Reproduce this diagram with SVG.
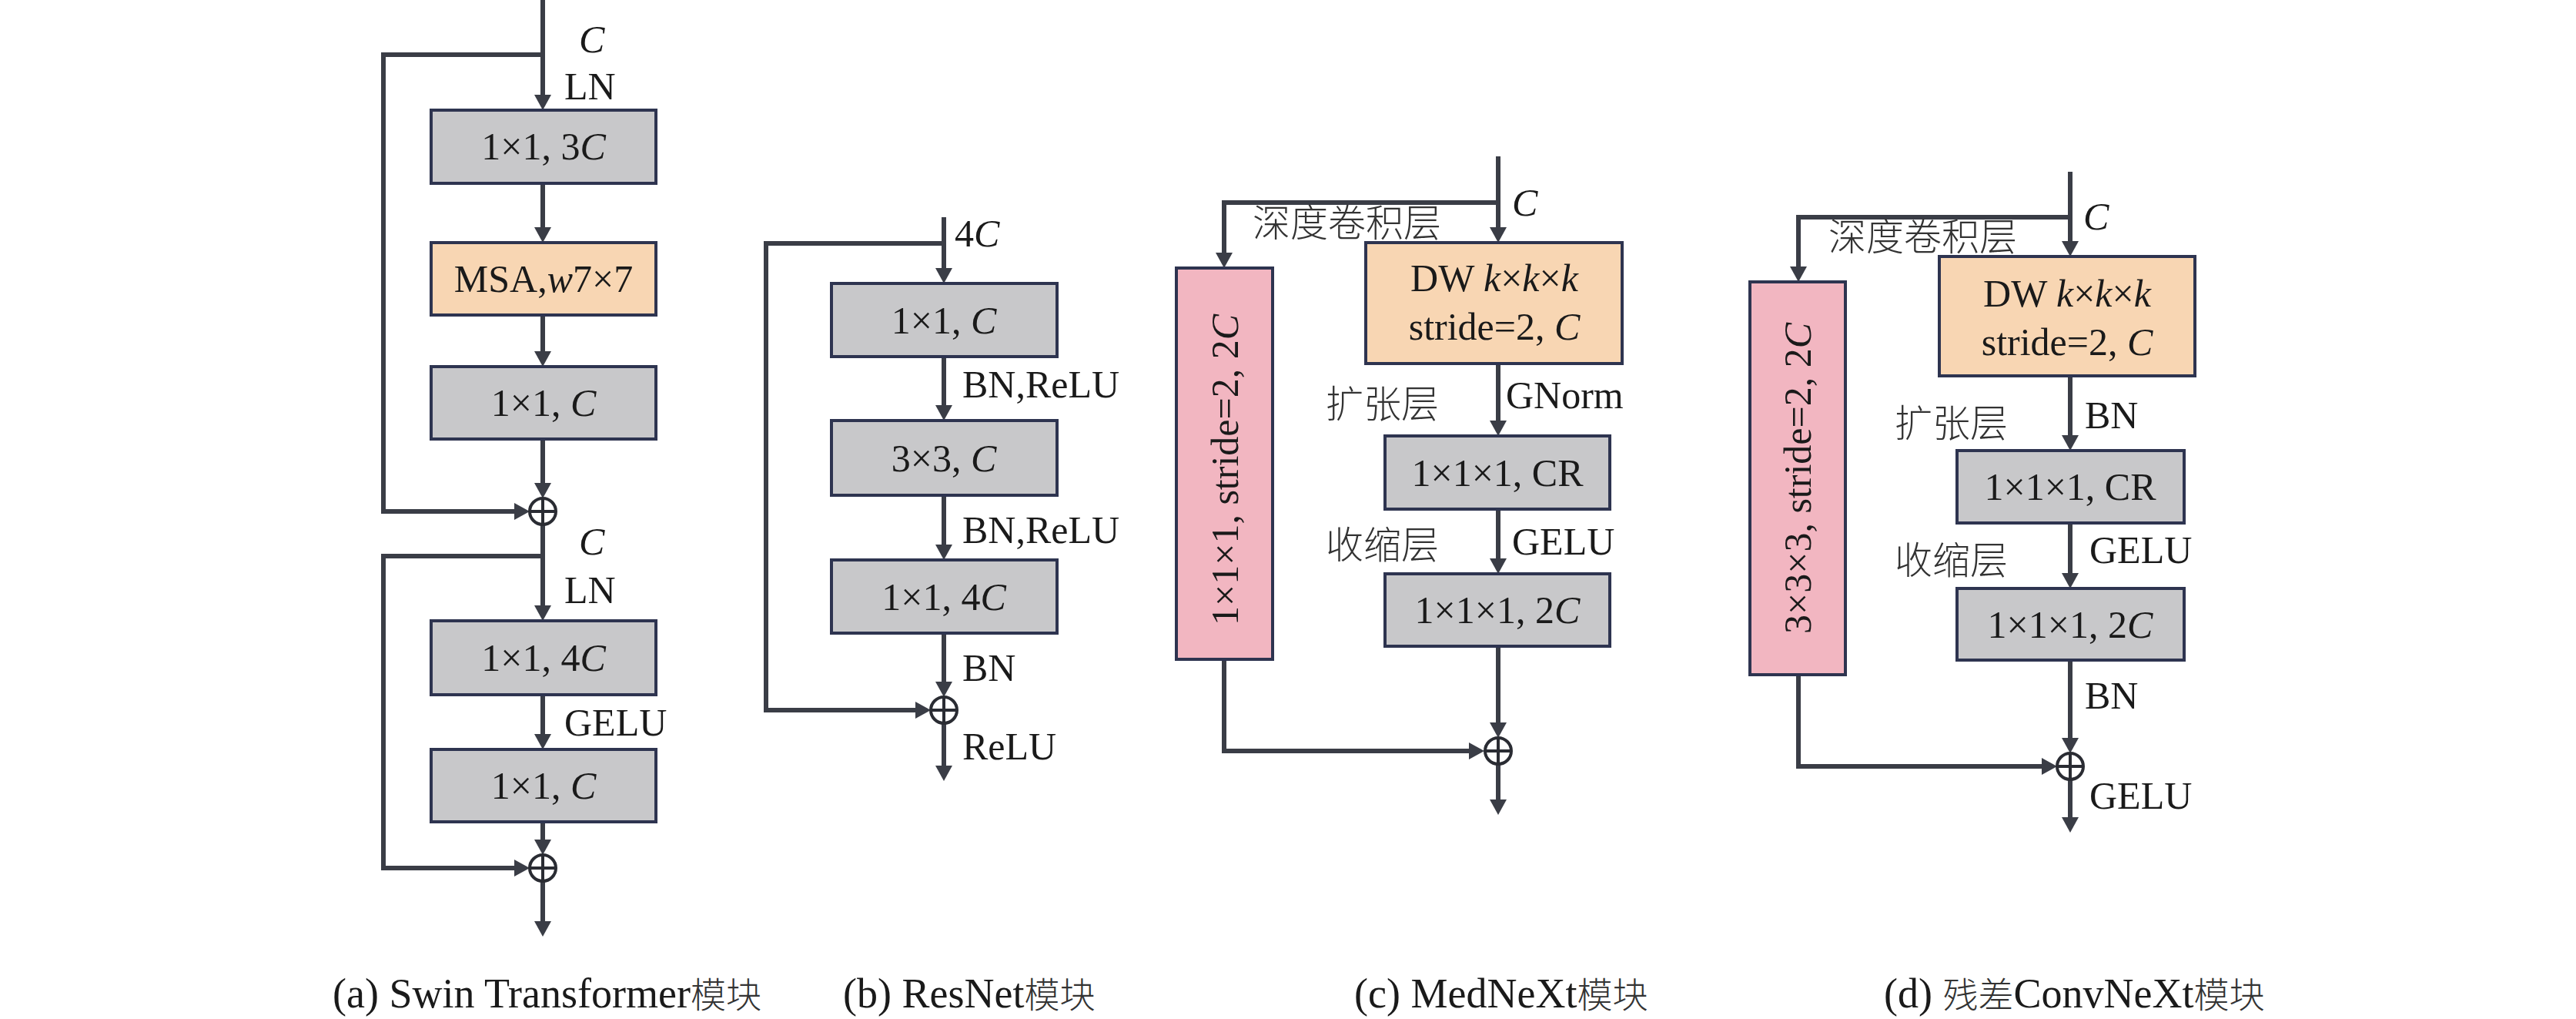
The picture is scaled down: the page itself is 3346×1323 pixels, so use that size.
<svg xmlns="http://www.w3.org/2000/svg" width="3346" height="1323" viewBox="0 0 3346 1323" font-family="'Liberation Serif', 'Times New Roman', serif">
<defs>
<style>
.bx{stroke:#2E3450;stroke-width:4}
.g{fill:#C8C8CA}.o{fill:#F8D6B3}.p{fill:#F2B6C1}
.ln{fill:none;stroke:#3A3D46;stroke-width:6;marker-end:url(#ah)}
.op circle{fill:#fff;stroke:#2A2C33;stroke-width:4}
.op line{stroke:#2A2C33;stroke-width:4}
text{font-family:'Liberation Serif','Times New Roman',serif;font-size:50px;fill:#1A1A1A}
.m{text-anchor:middle}
.cj{font-family:'Noto Sans CJK SC',sans-serif;font-size:49px;font-weight:300;fill:#333}
.cap{font-size:54px}
.cap .cj{font-size:46px}
.i{font-style:italic}
</style>
<marker id="ah" markerUnits="userSpaceOnUse" markerWidth="22" markerHeight="22" refX="12" refY="11" orient="auto"><path d="M0,0 L20,11 L0,22 z" fill="#3A3D46"/></marker>
</defs>
<rect width="3346" height="1323" fill="#fff"/>

<g id="connectors">
<path class="ln" d="M705,0 V135"/>
<path class="ln" d="M705,71 H498 V664 H680"/>
<path class="ln" d="M705,238 V307"/>
<path class="ln" d="M705,409 V468"/>
<path class="ln" d="M705,570 V639"/>
<path class="ln" d="M705,681 V798"/>
<path class="ln" d="M705,722 H498 V1127 H680"/>
<path class="ln" d="M705,902 V965"/>
<path class="ln" d="M705,1067 V1102"/>
<path class="ln" d="M705,1144 V1208"/>
<path class="ln" d="M1226,282 V360"/>
<path class="ln" d="M1226,316 H995 V922 H1201"/>
<path class="ln" d="M1226,463 V538"/>
<path class="ln" d="M1226,643 V719"/>
<path class="ln" d="M1226,822 V897"/>
<path class="ln" d="M1226,939 V1006"/>
<path class="ln" d="M1946,203 V307"/>
<path class="ln" d="M1946,263 H1590 V340"/>
<path class="ln" d="M1946,472 V558"/>
<path class="ln" d="M1946,661 V737"/>
<path class="ln" d="M1946,839 V950"/>
<path class="ln" d="M1590,856 V975 H1920"/>
<path class="ln" d="M1946,992 V1050"/>
<path class="ln" d="M2689,223 V325"/>
<path class="ln" d="M2689,282 H2336 V358"/>
<path class="ln" d="M2689,488 V577"/>
<path class="ln" d="M2689,679 V756"/>
<path class="ln" d="M2689,857 V970"/>
<path class="ln" d="M2336,876 V995 H2664"/>
<path class="ln" d="M2689,1012 V1073"/>
</g>

<g id="a-labels">
<text class="i" x="752" y="68">C</text>
<text x="733" y="129">LN</text>
<text class="i" x="752" y="720">C</text>
<text x="733" y="783">LN</text>
<text x="733" y="955">GELU</text>
</g>
<g id="a-box1"><rect class="bx g" x="560" y="143" width="292" height="95"/><text class="m" x="706" y="207">1×1, 3<tspan class="i">C</tspan></text></g>
<g id="a-msa"><rect class="bx o" x="560" y="315" width="292" height="94"/><text class="m" x="706" y="379">MSA,<tspan class="i">w</tspan>7×7</text></g>
<g id="a-box3"><rect class="bx g" x="560" y="476" width="292" height="94"/><text class="m" x="706" y="540">1×1, <tspan class="i">C</tspan></text></g>
<g id="a-add1" class="op"><circle cx="705" cy="664" r="17"/><line x1="688" y1="664" x2="722" y2="664"/><line x1="705" y1="647" x2="705" y2="681"/></g>
<g id="a-box4"><rect class="bx g" x="560" y="806" width="292" height="96"/><text class="m" x="706" y="871">1×1, 4<tspan class="i">C</tspan></text></g>
<g id="a-box5"><rect class="bx g" x="560" y="973" width="292" height="94"/><text class="m" x="706" y="1037">1×1, <tspan class="i">C</tspan></text></g>
<g id="a-add2" class="op"><circle cx="705" cy="1127" r="17"/><line x1="688" y1="1127" x2="722" y2="1127"/><line x1="705" y1="1110" x2="705" y2="1144"/></g>

<g id="b-labels">
<text x="1240" y="320">4<tspan class="i">C</tspan></text>
<text x="1250" y="516">BN,ReLU</text>
<text x="1250" y="705">BN,ReLU</text>
<text x="1250" y="884">BN</text>
<text x="1250" y="986">ReLU</text>
</g>
<g id="b-box1"><rect class="bx g" x="1080" y="368" width="293" height="95"/><text class="m" x="1226" y="433">1×1, <tspan class="i">C</tspan></text></g>
<g id="b-box2"><rect class="bx g" x="1080" y="546" width="293" height="97"/><text class="m" x="1226" y="612">3×3, <tspan class="i">C</tspan></text></g>
<g id="b-box3"><rect class="bx g" x="1080" y="727" width="293" height="95"/><text class="m" x="1226" y="792">1×1, 4<tspan class="i">C</tspan></text></g>
<g id="b-add" class="op"><circle cx="1226" cy="922" r="17"/><line x1="1209" y1="922" x2="1243" y2="922"/><line x1="1226" y1="905" x2="1226" y2="939"/></g>

<g id="c-labels">
<text class="i" x="1964" y="280">C</text>
<text class="cj" x="1627" y="307">深度卷积层</text>
<text x="1956" y="530">GNorm</text>
<text class="cj" x="1722" y="542">扩张层</text>
<text class="cj" x="1722" y="725">收缩层</text>
<text x="1964" y="720">GELU</text>
</g>
<g id="c-dw"><rect class="bx o" x="1774" y="315" width="333" height="157"/><text class="m" x="1941" y="378">DW <tspan class="i">k</tspan>×<tspan class="i">k</tspan>×<tspan class="i">k</tspan></text><text class="m" x="1941" y="441">stride=2, <tspan class="i">C</tspan></text></g>
<g id="c-pink"><rect class="bx p" x="1528" y="348" width="125" height="508"/><text class="m" transform="translate(1591,610) rotate(-90)" x="0" y="17">1×1×1, stride=2, 2<tspan class="i">C</tspan></text></g>
<g id="c-cr"><rect class="bx g" x="1799" y="566" width="292" height="95"/><text class="m" x="1945" y="631">1×1×1, CR</text></g>
<g id="c-2c"><rect class="bx g" x="1799" y="745" width="292" height="94"/><text class="m" x="1945" y="809">1×1×1, 2<tspan class="i">C</tspan></text></g>
<g id="c-add" class="op"><circle cx="1946" cy="975" r="17"/><line x1="1929" y1="975" x2="1963" y2="975"/><line x1="1946" y1="958" x2="1946" y2="992"/></g>

<g id="d-labels">
<text class="i" x="2706" y="298">C</text>
<text class="cj" x="2375" y="325">深度卷积层</text>
<text x="2708" y="556">BN</text>
<text class="cj" x="2461" y="567">扩张层</text>
<text x="2714" y="731">GELU</text>
<text class="cj" x="2461" y="745">收缩层</text>
<text x="2708" y="920">BN</text>
<text x="2714" y="1050">GELU</text>
</g>
<g id="d-dw"><rect class="bx o" x="2519" y="333" width="332" height="155"/><text class="m" x="2685" y="398">DW <tspan class="i">k</tspan>×<tspan class="i">k</tspan>×<tspan class="i">k</tspan></text><text class="m" x="2685" y="461">stride=2, <tspan class="i">C</tspan></text></g>
<g id="d-pink"><rect class="bx p" x="2273" y="366" width="124" height="510"/><text class="m" transform="translate(2335,621) rotate(-90)" x="0" y="17">3×3×3, stride=2, 2<tspan class="i">C</tspan></text></g>
<g id="d-cr"><rect class="bx g" x="2542" y="585" width="295" height="94"/><text class="m" x="2689" y="649">1×1×1, CR</text></g>
<g id="d-2c"><rect class="bx g" x="2542" y="764" width="295" height="93"/><text class="m" x="2689" y="828">1×1×1, 2<tspan class="i">C</tspan></text></g>
<g id="d-add" class="op"><circle cx="2689" cy="995" r="17"/><line x1="2672" y1="995" x2="2706" y2="995"/><line x1="2689" y1="978" x2="2689" y2="1012"/></g>

<g id="captions">
<text class="cap" x="432" y="1308">(a) Swin Transformer<tspan class="cj">模块</tspan></text>
<text class="cap" x="1095" y="1308">(b) ResNet<tspan class="cj">模块</tspan></text>
<text class="cap" x="1759" y="1308">(c) MedNeXt<tspan class="cj">模块</tspan></text>
<text class="cap" x="2447" y="1308">(d) <tspan class="cj">残差</tspan>ConvNeXt<tspan class="cj">模块</tspan></text>
</g>
</svg>
